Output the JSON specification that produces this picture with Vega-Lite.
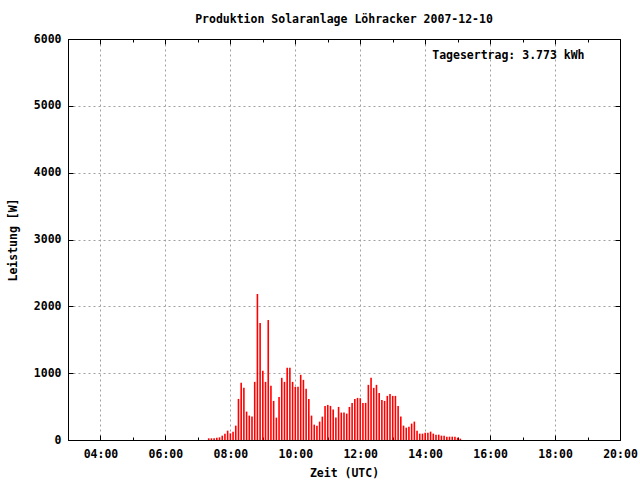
{
  "$schema": "https://vega.github.io/schema/vega-lite/v6.json",
  "width": 552,
  "height": 401,
  "autosize": "none",
  "padding": {"left": 68, "top": 39, "right": 20, "bottom": 40},
  "background": "white",
  "config": {
    "font": "DejaVu Sans Mono",
    "view": {"stroke": "black", "strokeWidth": 1},
    "axis": {
      "domainColor": "black",
      "tickColor": "black",
      "labelColor": "black",
      "titleColor": "black",
      "labelFont": "DejaVu Sans Mono",
      "titleFont": "DejaVu Sans Mono",
      "labelFontSize": 11.5,
      "titleFontSize": 11.5,
      "labelFontWeight": "bold",
      "titleFontWeight": "bold",
      "gridColor": "#a0a0a0",
      "gridDash": [2, 3],
      "labelFlush": false,
      "labelOverlap": false
    }
  },
  "title": {
    "text": "Produktion Solaranlage Löhracker 2007-12-10",
    "font": "DejaVu Sans Mono",
    "fontSize": 11.5,
    "fontWeight": "bold",
    "color": "black",
    "anchor": "middle",
    "offset": 8
  },
  "data": {
    "format": {"parse": {"t": "utc:'%H:%M'"}},
    "values": [
      {"t": "07:20", "w": 25}, {"t": "07:25", "w": 25}, {"t": "07:30", "w": 25}, {"t": "07:35", "w": 35},
      {"t": "07:40", "w": 40}, {"t": "07:45", "w": 65}, {"t": "07:50", "w": 95}, {"t": "07:55", "w": 140},
      {"t": "08:00", "w": 100}, {"t": "08:05", "w": 125}, {"t": "08:10", "w": 215}, {"t": "08:15", "w": 615},
      {"t": "08:20", "w": 855}, {"t": "08:25", "w": 780}, {"t": "08:30", "w": 425}, {"t": "08:35", "w": 365},
      {"t": "08:40", "w": 350}, {"t": "08:45", "w": 870}, {"t": "08:50", "w": 2185}, {"t": "08:55", "w": 1750},
      {"t": "09:00", "w": 1035}, {"t": "09:05", "w": 870}, {"t": "09:10", "w": 1795}, {"t": "09:15", "w": 810},
      {"t": "09:20", "w": 585}, {"t": "09:25", "w": 335}, {"t": "09:30", "w": 645}, {"t": "09:35", "w": 930},
      {"t": "09:40", "w": 870}, {"t": "09:45", "w": 1080}, {"t": "09:50", "w": 1080}, {"t": "09:55", "w": 870},
      {"t": "10:00", "w": 795}, {"t": "10:05", "w": 795}, {"t": "10:10", "w": 975}, {"t": "10:15", "w": 900},
      {"t": "10:20", "w": 765}, {"t": "10:25", "w": 615}, {"t": "10:30", "w": 365}, {"t": "10:35", "w": 230},
      {"t": "10:40", "w": 215}, {"t": "10:45", "w": 275}, {"t": "10:50", "w": 350}, {"t": "10:55", "w": 510},
      {"t": "11:00", "w": 525}, {"t": "11:05", "w": 510}, {"t": "11:10", "w": 455}, {"t": "11:15", "w": 335},
      {"t": "11:20", "w": 495}, {"t": "11:25", "w": 410}, {"t": "11:30", "w": 410}, {"t": "11:35", "w": 395},
      {"t": "11:40", "w": 495}, {"t": "11:45", "w": 555}, {"t": "11:50", "w": 615}, {"t": "11:55", "w": 630},
      {"t": "12:00", "w": 625}, {"t": "12:05", "w": 555}, {"t": "12:10", "w": 555}, {"t": "12:15", "w": 825},
      {"t": "12:20", "w": 930}, {"t": "12:25", "w": 780}, {"t": "12:30", "w": 825}, {"t": "12:35", "w": 705},
      {"t": "12:40", "w": 600}, {"t": "12:45", "w": 585}, {"t": "12:50", "w": 660}, {"t": "12:55", "w": 690},
      {"t": "13:00", "w": 660}, {"t": "13:05", "w": 660}, {"t": "13:10", "w": 510}, {"t": "13:15", "w": 350},
      {"t": "13:20", "w": 215}, {"t": "13:25", "w": 185}, {"t": "13:30", "w": 200}, {"t": "13:35", "w": 245},
      {"t": "13:40", "w": 275}, {"t": "13:45", "w": 140}, {"t": "13:50", "w": 95}, {"t": "13:55", "w": 95},
      {"t": "14:00", "w": 110}, {"t": "14:05", "w": 110}, {"t": "14:10", "w": 125}, {"t": "14:15", "w": 95},
      {"t": "14:20", "w": 80}, {"t": "14:25", "w": 80}, {"t": "14:30", "w": 65}, {"t": "14:35", "w": 65},
      {"t": "14:40", "w": 50}, {"t": "14:45", "w": 50}, {"t": "14:50", "w": 50}, {"t": "14:55", "w": 50},
      {"t": "15:00", "w": 35}, {"t": "15:05", "w": 20}
    ]
  },
  "layer": [
    {
      "mark": {"type": "rule", "color": "#ff0000", "strokeWidth": 1.6},
      "encoding": {
        "x": {
          "field": "t",
          "type": "temporal",
          "scale": {
            "type": "utc",
            "domain": [
              {"year": 1900, "month": 1, "date": 1, "hours": 3, "utc": true},
              {"year": 1900, "month": 1, "date": 1, "hours": 20, "utc": true}
            ]
          },
          "axis": {
            "orient": "bottom",
            "values": [
              {"year": 1900, "month": 1, "date": 1, "hours": 4, "utc": true},
              {"year": 1900, "month": 1, "date": 1, "hours": 5, "utc": true},
              {"year": 1900, "month": 1, "date": 1, "hours": 6, "utc": true},
              {"year": 1900, "month": 1, "date": 1, "hours": 7, "utc": true},
              {"year": 1900, "month": 1, "date": 1, "hours": 8, "utc": true},
              {"year": 1900, "month": 1, "date": 1, "hours": 9, "utc": true},
              {"year": 1900, "month": 1, "date": 1, "hours": 10, "utc": true},
              {"year": 1900, "month": 1, "date": 1, "hours": 11, "utc": true},
              {"year": 1900, "month": 1, "date": 1, "hours": 12, "utc": true},
              {"year": 1900, "month": 1, "date": 1, "hours": 13, "utc": true},
              {"year": 1900, "month": 1, "date": 1, "hours": 14, "utc": true},
              {"year": 1900, "month": 1, "date": 1, "hours": 15, "utc": true},
              {"year": 1900, "month": 1, "date": 1, "hours": 16, "utc": true},
              {"year": 1900, "month": 1, "date": 1, "hours": 17, "utc": true},
              {"year": 1900, "month": 1, "date": 1, "hours": 18, "utc": true},
              {"year": 1900, "month": 1, "date": 1, "hours": 19, "utc": true},
              {"year": 1900, "month": 1, "date": 1, "hours": 20, "utc": true}
            ],
            "labelExpr": "utchours(datum.value) % 2 == 0 ? utcFormat(datum.value, '%H:%M') : ''",
            "grid": true,
            "gridOpacity": {"condition": {"test": "utchours(datum.value) % 2 == 0 && utchours(datum.value) < 20", "value": 1}, "value": 0},
            "tickSize": {"condition": {"test": "utchours(datum.value) % 2 == 0", "value": -5}, "value": -3},
            "labelPadding": 13,
            "title": "Zeit (UTC)",
            "titlePadding": 6
          }
        },
        "y": {
          "field": "w",
          "type": "quantitative",
          "scale": {"domain": [0, 6000], "nice": false, "zero": true},
          "axis": {
            "orient": "left",
            "values": [0, 1000, 2000, 3000, 4000, 5000, 6000],
            "format": "d",
            "grid": true,
            "gridOpacity": {"condition": {"test": "datum.value > 0 && datum.value < 6000", "value": 1}, "value": 0},
            "tickSize": -5,
            "labelPadding": 12,
            "title": "Leistung [W]",
            "titlePadding": 15
          }
        },
        "y2": {"datum": 0}
      }
    },
    {
      "data": {"values": [{}]},
      "mark": {
        "type": "text",
        "text": "Tagesertrag: 3.773 kWh",
        "align": "left",
        "baseline": "middle",
        "font": "DejaVu Sans Mono",
        "fontSize": 11.5,
        "fontWeight": "bold",
        "color": "black"
      },
      "encoding": {
        "x": {
          "datum": {"year": 1900, "month": 1, "date": 1, "hours": 14, "minutes": 13, "utc": true},
          "type": "temporal",
          "axis": {
            "orient": "top",
            "values": [
              {"year": 1900, "month": 1, "date": 1, "hours": 4, "utc": true},
              {"year": 1900, "month": 1, "date": 1, "hours": 5, "utc": true},
              {"year": 1900, "month": 1, "date": 1, "hours": 6, "utc": true},
              {"year": 1900, "month": 1, "date": 1, "hours": 7, "utc": true},
              {"year": 1900, "month": 1, "date": 1, "hours": 8, "utc": true},
              {"year": 1900, "month": 1, "date": 1, "hours": 9, "utc": true},
              {"year": 1900, "month": 1, "date": 1, "hours": 10, "utc": true},
              {"year": 1900, "month": 1, "date": 1, "hours": 11, "utc": true},
              {"year": 1900, "month": 1, "date": 1, "hours": 12, "utc": true},
              {"year": 1900, "month": 1, "date": 1, "hours": 13, "utc": true},
              {"year": 1900, "month": 1, "date": 1, "hours": 14, "utc": true},
              {"year": 1900, "month": 1, "date": 1, "hours": 15, "utc": true},
              {"year": 1900, "month": 1, "date": 1, "hours": 16, "utc": true},
              {"year": 1900, "month": 1, "date": 1, "hours": 17, "utc": true},
              {"year": 1900, "month": 1, "date": 1, "hours": 18, "utc": true},
              {"year": 1900, "month": 1, "date": 1, "hours": 19, "utc": true}
            ],
            "labels": false,
            "grid": false,
            "tickSize": {"condition": {"test": "utchours(datum.value) % 2 == 0", "value": -5}, "value": -3},
            "title": null
          }
        },
        "y": {
          "datum": 5750,
          "type": "quantitative",
          "axis": {
            "orient": "right",
            "values": [1000, 2000, 3000, 4000, 5000],
            "labels": false,
            "grid": false,
            "tickSize": -5,
            "title": null
          }
        }
      }
    }
  ],
  "resolve": {"axis": {"x": "independent", "y": "independent"}}
}
